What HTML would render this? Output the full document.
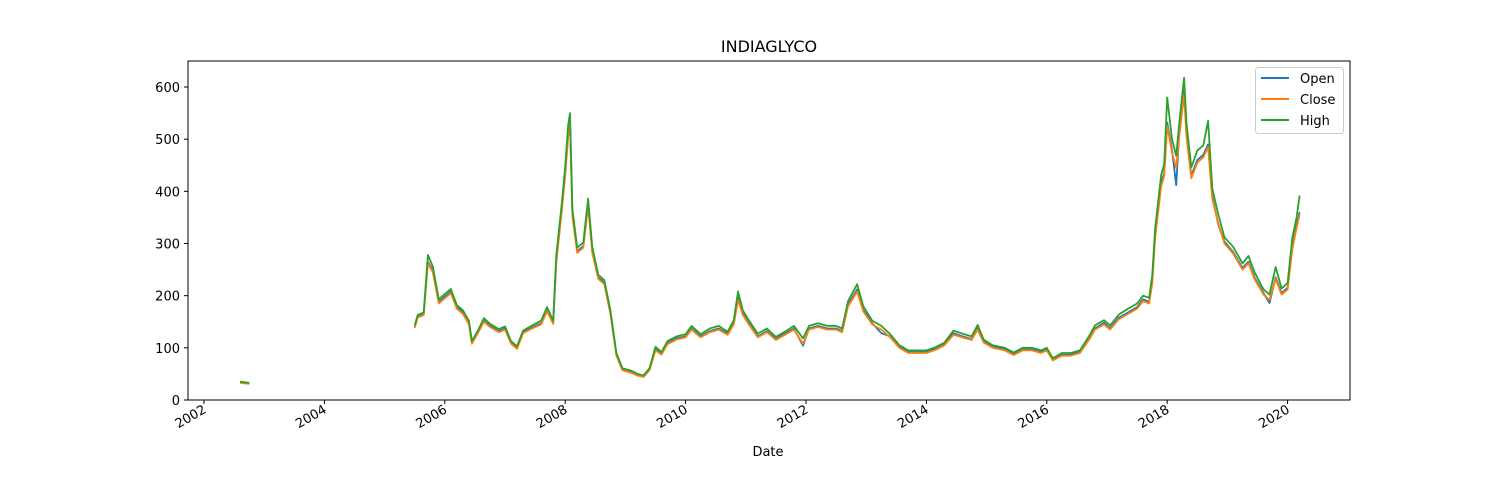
<!DOCTYPE html>
<html><head><meta charset="utf-8"><style>
body{margin:0;background:#fff;}
svg{display:block;font-family:"DejaVu Sans","Liberation Sans",sans-serif;}
</style></head><body>
<svg id="chart" width="1500" height="500">
<rect width="1500" height="500" fill="#fff"/>
<text x="769" y="52" font-size="16" text-anchor="middle">INDIAGLYCO</text>
<g id="marks"></g>
<rect x="188" y="61" width="1162" height="339" fill="none" stroke="#000" stroke-width="1"/>
<g id="axes"></g>
<text x="768" y="456" font-size="13" text-anchor="middle">Date</text>
<g>
<rect x="1255.5" y="67.5" width="88" height="66" rx="3" fill="#fff" stroke="#ccc" fill-opacity="0.8"/>
<line x1="1261" y1="78" x2="1289" y2="78" stroke="#1f77b4" stroke-width="2"/>
<text x="1300" y="83" font-size="13">Open</text>
<line x1="1261" y1="99" x2="1289" y2="99" stroke="#ff7f0e" stroke-width="2"/>
<text x="1300" y="104" font-size="13">Close</text>
<line x1="1261" y1="120" x2="1289" y2="120" stroke="#2ca02c" stroke-width="2"/>
<text x="1300" y="125" font-size="13">High</text>
</g>
</svg>
<script>
const dates=[2002.6,2002.75,null,2005.5,2005.55,2005.65,2005.72,2005.8,2005.9,2006.0,2006.1,2006.2,2006.3,2006.4,2006.45,2006.55,2006.65,2006.75,2006.9,2007.0,2007.1,2007.2,2007.3,2007.45,2007.6,2007.7,2007.8,2007.85,2007.95,2008.0,2008.05,2008.08,2008.12,2008.2,2008.3,2008.38,2008.45,2008.55,2008.65,2008.75,2008.85,2008.95,2009.1,2009.2,2009.3,2009.4,2009.5,2009.6,2009.7,2009.85,2010.0,2010.1,2010.25,2010.4,2010.55,2010.7,2010.8,2010.87,2010.95,2011.05,2011.2,2011.35,2011.5,2011.65,2011.8,2011.95,2012.05,2012.2,2012.35,2012.5,2012.6,2012.7,2012.85,2012.95,2013.1,2013.25,2013.4,2013.55,2013.7,2013.85,2014.0,2014.15,2014.3,2014.45,2014.6,2014.75,2014.85,2014.95,2015.1,2015.3,2015.45,2015.6,2015.75,2015.9,2016.0,2016.1,2016.25,2016.4,2016.55,2016.7,2016.8,2016.95,2017.05,2017.2,2017.35,2017.5,2017.6,2017.7,2017.75,2017.8,2017.9,2017.95,2018.0,2018.08,2018.15,2018.2,2018.28,2018.32,2018.4,2018.5,2018.6,2018.68,2018.75,2018.85,2018.95,2019.1,2019.25,2019.35,2019.45,2019.6,2019.7,2019.8,2019.9,2020.0,2020.08,2020.15,2020.2];
const closeVals=[33,31,null,138,158,163,262,245,185,195,205,175,165,145,108,128,150,140,130,135,108,98,128,137,145,170,146,262,370,430,505,530,352,282,292,372,282,232,222,165,85,57,52,47,44,57,95,87,107,116,120,135,120,130,135,125,145,192,163,145,120,130,115,125,135,108,135,140,135,135,130,180,208,170,145,135,120,100,90,90,90,96,105,125,120,115,135,110,100,95,86,95,95,90,95,76,85,85,90,115,135,145,135,155,165,175,190,185,222,312,410,430,525,475,445,505,585,505,425,455,465,485,385,338,300,280,250,262,232,202,192,232,202,212,290,330,355];
const openVals=[34,32,null,140,160,165,265,248,188,198,208,178,168,148,110,130,152,142,132,137,110,100,130,139,147,172,148,265,374,434,510,535,356,285,295,376,285,235,225,167,87,58,53,48,45,58,97,89,109,118,122,137,122,132,137,127,147,196,166,147,122,132,117,127,137,104,137,142,137,137,132,183,212,173,147,128,122,102,92,92,92,98,107,128,122,117,137,112,102,97,88,97,97,92,97,78,87,87,92,117,137,148,137,158,168,178,193,188,226,318,416,436,532,480,412,512,592,510,430,460,470,490,390,335,304,283,253,265,235,205,186,235,205,215,295,335,360];
const highVals=[35,33,null,143,163,168,278,256,193,203,213,182,172,152,113,133,157,146,136,141,113,103,133,143,152,178,152,275,385,448,528,550,366,292,302,386,293,240,230,172,90,61,56,50,47,61,102,92,113,122,126,142,126,137,142,131,153,208,172,153,127,137,121,131,142,118,142,147,142,142,137,190,222,180,152,142,126,105,95,95,95,101,110,133,127,122,144,116,105,100,91,100,100,95,100,80,90,90,95,122,143,153,143,164,175,185,200,196,238,330,432,452,580,500,468,530,618,530,446,478,488,535,405,355,312,293,262,276,245,212,202,255,214,224,312,350,392];
const yTicks=[0,100,200,300,400,500,600];
const xTicks=[2002,2004,2006,2008,2010,2012,2014,2016,2018,2020];
const xs=v=>204+(v-2002)*60.2;
const ys=v=>400-v*0.52167;
const NS="http://www.w3.org/2000/svg";
const marks=document.getElementById('marks'),axes=document.getElementById('axes');
function mk(t,a,p){const e=document.createElementNS(NS,t);for(const k in a)e.setAttribute(k,a[k]);p.appendChild(e);return e;}
function pathFor(vals){let d="",pen=false;for(let i=0;i<dates.length;i++){if(dates[i]==null||vals[i]==null){pen=false;continue;}d+=(pen?"L":"M")+xs(dates[i]).toFixed(1)+","+ys(vals[i]).toFixed(1);pen=true;}return d;}
const series=[["open",openVals,"#1f77b4"],["close",closeVals,"#ff7f0e"],["high",highVals,"#2ca02c"]];
for(const s of series){
const p=mk('path',{d:pathFor(s[1]),fill:'none',stroke:s[2],'stroke-width':1.8,'stroke-linejoin':'round'},marks);


}
for(const t of yTicks){const y=ys(t);
const l=mk('line',{x1:184,x2:188,y1:y,y2:y,stroke:'#000'},axes);


const tx=mk('text',{x:180,y:y+5,'font-size':13,'text-anchor':'end'},axes);tx.textContent=t;


}
for(const t of xTicks){const x=xs(t);
const l=mk('line',{x1:x,x2:x,y1:400,y2:404,stroke:'#000'},axes);


const tx=mk('text',{x:x+3,y:412,'font-size':13,'text-anchor':'end',transform:`rotate(-30 ${x+3} 412)`},axes);tx.textContent=t;


}
</script>
</body></html>
